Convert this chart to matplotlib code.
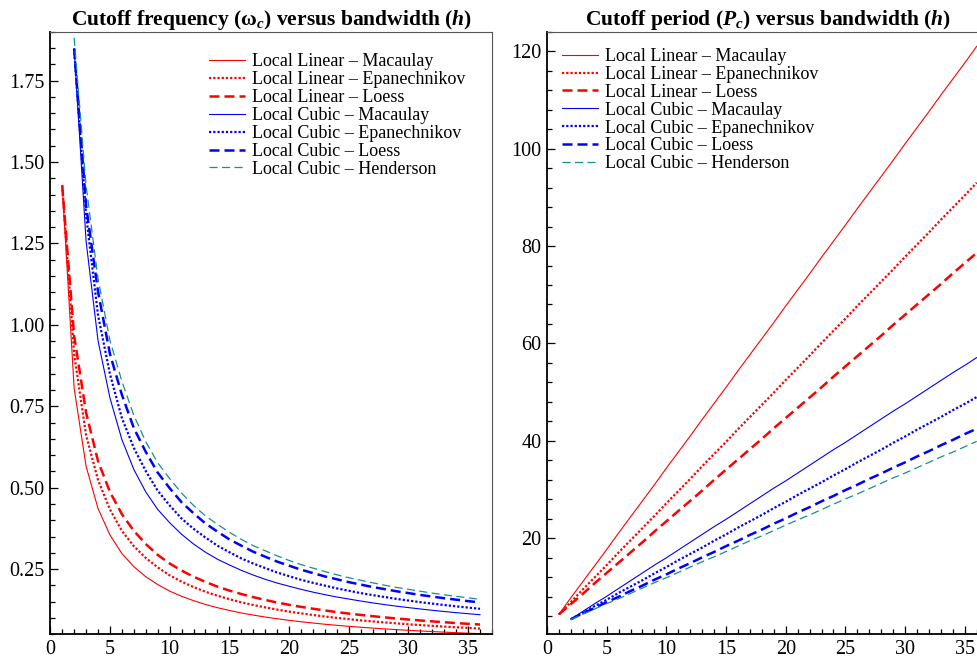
import numpy as np
import matplotlib
matplotlib.use('Agg')
from matplotlib import pyplot as plt
from matplotlib.ticker import MultipleLocator, FormatStrFormatter

plt.rcParams['font.family'] = ['Liberation Serif', 'DejaVu Serif']
plt.rcParams['mathtext.fontset'] = 'custom'
plt.rcParams['mathtext.rm'] = 'Liberation Serif:bold'
plt.rcParams['mathtext.it'] = 'Liberation Serif:italic:bold'
plt.rcParams['mathtext.bf'] = 'Liberation Serif:bold'

# bandwidth h: local linear from 1, local cubic from 2
h_lin = list(range(1, 37))
h_cub = list(range(2, 37))

# cutoff period, one value per bandwidth
ll_macaulay = [4.4, 7.8, 11.1, 14.4, 17.7, 21.1, 24.4, 27.7, 31.0, 34.4, 37.7, 41.0,
               44.4, 47.7, 51.0, 54.4, 57.7, 61.0, 64.3, 67.7, 71.0, 74.3, 77.7, 81.0,
               84.3, 87.7, 91.0, 94.3, 97.6, 101.0, 104.3, 107.6, 111.0, 114.3, 117.6, 121.0]
ll_epanechnikov = [4.4, 6.9, 9.5, 12.0, 14.5, 17.1, 19.6, 22.1, 24.6, 27.2, 29.7, 32.2,
                   34.8, 37.3, 39.8, 42.4, 44.9, 47.4, 49.9, 52.5, 55.0, 57.5, 60.1, 62.6,
                   65.1, 67.7, 70.2, 72.7, 75.2, 77.8, 80.3, 82.8, 85.4, 87.9, 90.4, 93.0]
ll_loess = [4.4, 6.5, 8.6, 10.8, 12.9, 15.0, 17.1, 19.2, 21.4, 23.5, 25.6, 27.7,
            29.8, 32.0, 34.1, 36.2, 38.3, 40.4, 42.6, 44.7, 46.8, 48.9, 51.0, 53.2,
            55.3, 57.4, 59.5, 61.6, 63.8, 65.9, 68.0, 70.1, 72.2, 74.4, 76.5, 78.6]
lc_macaulay = [3.4, 5.0, 6.6, 8.1, 9.7, 11.3, 12.9, 14.5, 16.0, 17.6, 19.2, 20.8,
               22.4, 23.9, 25.5, 27.1, 28.7, 30.3, 31.8, 33.4, 35.0, 36.6, 38.2, 39.7,
               41.3, 42.9, 44.5, 46.1, 47.6, 49.2, 50.8, 52.4, 54.0, 55.5, 57.1]
lc_epanechnikov = [3.4, 4.7, 6.1, 7.4, 8.8, 10.1, 11.4, 12.8, 14.1, 15.5, 16.8, 18.1,
                   19.5, 20.8, 22.2, 23.5, 24.8, 26.2, 27.5, 28.9, 30.2, 31.5, 32.9, 34.2,
                   35.6, 36.9, 38.2, 39.6, 40.9, 42.3, 43.6, 44.9, 46.3, 47.6, 49.0]
lc_loess = [3.4, 4.6, 5.7, 6.9, 8.0, 9.2, 10.3, 11.5, 12.6, 13.8, 14.9, 16.1,
            17.2, 18.4, 19.5, 20.7, 21.8, 23.0, 24.1, 25.3, 26.4, 27.6, 28.7, 29.9,
            31.0, 32.2, 33.3, 34.5, 35.6, 36.8, 37.9, 39.1, 40.2, 41.4, 42.5]
lc_henderson = [3.34, 4.4, 5.5, 6.6, 7.6, 8.7, 9.8, 10.9, 11.9, 13.0, 14.1, 15.2,
                16.2, 17.3, 18.4, 19.5, 20.5, 21.6, 22.7, 23.8, 24.8, 25.9, 27.0, 28.1,
                29.1, 30.2, 31.3, 32.4, 33.4, 34.5, 35.6, 36.7, 37.7, 38.8, 39.9]

labels = ['Local Linear – Macaulay', 'Local Linear – Epanechnikov', 'Local Linear – Loess',
          'Local Cubic – Macaulay', 'Local Cubic – Epanechnikov', 'Local Cubic – Loess',
          'Local Cubic – Henderson']

red = '#ff0000'
blue = '#0000ff'
teal = '#14908c'

series = [
    (h_lin, ll_macaulay, dict(color=red, lw=0.8, ls='-')),
    (h_lin, ll_epanechnikov, dict(color=red, lw=1.6, ls=(0, (1, 0.9)))),
    (h_lin, ll_loess, dict(color=red, lw=1.8, ls=(0, (4, 2)))),
    (h_cub, lc_macaulay, dict(color=blue, lw=0.8, ls='-')),
    (h_cub, lc_epanechnikov, dict(color=blue, lw=1.6, ls=(0, (1, 0.9)))),
    (h_cub, lc_loess, dict(color=blue, lw=1.8, ls=(0, (4, 2)))),
    (h_cub, lc_henderson, dict(color=teal, lw=0.9, ls=(0, (6.5, 3.5)))),
]

fig = plt.figure(figsize=(9.78, 6.59), dpi=100)
ax1 = fig.add_axes([0.0514, 0.0375, 0.4516, 0.9144])
ax2 = fig.add_axes([0.5593, 0.0375, 0.4516, 0.9144])

for (h, p, st), lab in zip(series, labels):
    w = 2 * np.pi / np.array(p)  # cutoff frequency from cutoff period
    ax1.plot(h, w, label=lab, **st)
    ax2.plot(h, p, label=lab, **st)

ax1.set_xlim(0, 37)
ax1.set_ylim(0.05, 1.90)
ax1.yaxis.set_major_locator(MultipleLocator(0.25))
ax1.yaxis.set_minor_locator(MultipleLocator(0.05))
ax1.yaxis.set_major_formatter(FormatStrFormatter('%.2f'))
ax1.set_title('Cutoff frequency (ω$_{c}$) versus bandwidth ($h$)',
              fontsize=15.5, fontweight='bold', pad=5)

ax2.set_xlim(0, 37)
ax2.set_ylim(0.3, 124)
ax2.yaxis.set_major_locator(MultipleLocator(20))
ax2.yaxis.set_minor_locator(MultipleLocator(4))
ax2.set_title('Cutoff period ($P_{c}$) versus bandwidth ($h$)',
              fontsize=15.5, fontweight='bold', pad=5)

for ax in [ax1, ax2]:
    ax.xaxis.set_major_locator(MultipleLocator(5))
    ax.xaxis.set_minor_locator(MultipleLocator(1))
    ax.tick_params(which='both', direction='in', top=False, right=False, labelsize=14.5, width=0.9)
    ax.tick_params(which='major', length=6, pad=4)
    ax.tick_params(which='minor', length=3.5)
    for s in ['left', 'bottom']:
        ax.spines[s].set_linewidth(1.3)
    for s in ['top', 'right']:
        ax.spines[s].set_linewidth(0.8)
        ax.spines[s].set_color('#555555')

ax1.legend(loc='upper left', bbox_to_anchor=(0.359, 0.964), frameon=False, fontsize=13,
           borderpad=0, borderaxespad=0, labelspacing=0.05, handlelength=2.0, handletextpad=0.4)
ax2.legend(loc='upper left', bbox_to_anchor=(0.033, 0.973), frameon=False, fontsize=13,
           borderpad=0, borderaxespad=0, labelspacing=0.05, handlelength=2.0, handletextpad=0.4)

plt.savefig('out.png', dpi=100)
